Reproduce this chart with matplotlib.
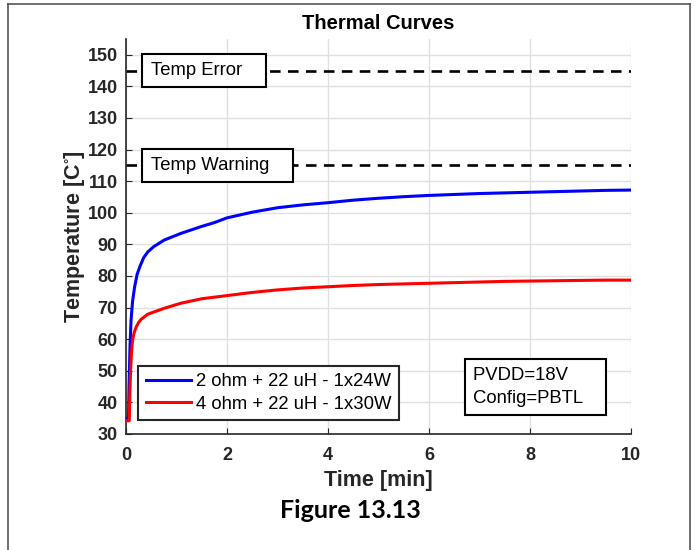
# Curvas termicas - recreacion de la figura 13.13
import numpy as np
import matplotlib
matplotlib.use("Agg")
import matplotlib.pyplot as plt
from matplotlib.lines import Line2D

plt.rcParams['font.family'] = ['Liberation Sans', 'DejaVu Sans']
plt.rcParams['mathtext.default'] = 'regular'

# Datos
t_blue = [0, 0.05, 0.06, 0.08, 0.1, 0.13, 0.17, 0.22, 0.28, 0.35, 0.43, 0.55, 0.76,
          1.09, 1.5, 1.75, 2, 2.5, 3, 3.5, 4, 4.5, 5, 5.5, 6, 6.5, 7, 7.5, 8, 8.5,
          9, 9.5, 10]
temp_blue = [35, 35, 45, 58, 66, 72, 76.5, 80.5, 83.2, 85.8, 87.6, 89.3, 91.4,
             93.5, 95.7, 96.9, 98.4, 100.2, 101.6, 102.5, 103.2, 104, 104.6, 105.1,
             105.5, 105.8, 106.1, 106.3, 106.5, 106.7, 106.9, 107.1, 107.2]

t_red = [0, 0.065, 0.075, 0.09, 0.11, 0.13, 0.16, 0.2, 0.25, 0.3, 0.43, 0.76, 1.09,
         1.5, 1.75, 2, 2.5, 3, 3.5, 4, 4.5, 5, 5.5, 6, 6.5, 7, 7.5, 8, 8.5, 9, 9.5, 10]
temp_red = [34.2, 34.2, 42, 50, 56, 59.7, 62, 63.8, 65.3, 66.3, 67.9, 69.8, 71.4,
            72.8, 73.3, 73.8, 74.8, 75.6, 76.2, 76.6, 77.0, 77.3, 77.5, 77.7, 77.9,
            78.1, 78.3, 78.4, 78.5, 78.6, 78.7, 78.7]

labels = ["2 ohm + 22 uH - 1x24W", "4 ohm + 22 uH - 1x30W"]
limits = [145, 115]
limit_names = ["Temp Error", "Temp Warning"]
x_ticks = [0, 2, 4, 6, 8, 10]
y_ticks = list(range(30, 151, 10))

dark = "#262626"
box_style = dict(boxstyle="square,pad=0.45", fc="white", ec="black", lw=1.5)

fig = plt.figure(figsize=(6.96, 5.5), dpi=100)
ax = fig.add_axes([126/696, 1 - 434/550, 505/696, 395/550])

# Lineas de limite con su etiqueta
for lim, name in zip(limits, limit_names):
    ax.axhline(lim, color="black", lw=1.9, ls=(0, (4, 2.8)), zorder=2)
    ax.text(0.49, lim, name + "   ", fontsize=13.3, va="center", ha="left",
            zorder=5, bbox=box_style)

# Curvas
ax.plot(t_blue, temp_blue, color="blue", lw=2.2, label=labels[0], zorder=3)
ax.plot(t_red, temp_red, color="red", lw=2.2, label=labels[1], zorder=3)

ax.set_xlim(0, 10)
ax.set_ylim(30, 155)
ax.set_xticks(x_ticks)
ax.set_yticks(y_ticks)
ax.grid(True, color="#e0e0e0", lw=1)
ax.set_axisbelow(True)

for s in ["top", "right"]:
    ax.spines[s].set_visible(False)
for s in ["left", "bottom"]:
    ax.spines[s].set_color(dark)
    ax.spines[s].set_linewidth(1.2)

ax.tick_params(direction="in", length=4, color=dark, labelcolor=dark,
               labelsize=13)
ax.tick_params(axis="x", pad=9)
ax.tick_params(axis="y", pad=6)
for lab in ax.get_xticklabels() + ax.get_yticklabels():
    lab.set_fontweight("bold")

ax.set_title("Thermal Curves", fontsize=14.5, fontweight="bold", pad=7)
ax.set_xlabel("Time [min]", fontsize=15.5, fontweight="bold", color=dark, labelpad=5)
ax.set_ylabel("Temperature [C$^{\\circ}$]", fontsize=15.5, fontweight="bold",
              color=dark, labelpad=0)

leg = ax.legend(loc="lower left", bbox_to_anchor=(0.024, 0.035), borderaxespad=0,
                fontsize=13.3, handlelength=2.45, handletextpad=0.3, borderpad=0.4,
                labelspacing=0.3, fancybox=False, framealpha=1)
leg.get_frame().set_edgecolor(dark)
leg.get_frame().set_linewidth(1.5)

ax.text(6.87, 44.9, "PVDD=18V   \nConfig=PBTL   ", fontsize=13.3, va="center",
        ha="left", linespacing=1.45, zorder=5, bbox=box_style)

fig.text(350/696, 1 - 511/550, "Figure 13.13", fontsize=18, fontweight="bold",
         family="Lato", ha="center", va="center")

# Marco de la pagina
for xs, ys in [([8/696, 8/696], [0, 1 - 4/550]),
               ([8/696, 690/696], [1 - 4/550, 1 - 4/550]),
               ([690/696, 690/696], [1 - 4/550, 0])]:
    fig.add_artist(Line2D(xs, ys, color="#555555", lw=1.2))

fig.savefig("out.png", dpi=100)
